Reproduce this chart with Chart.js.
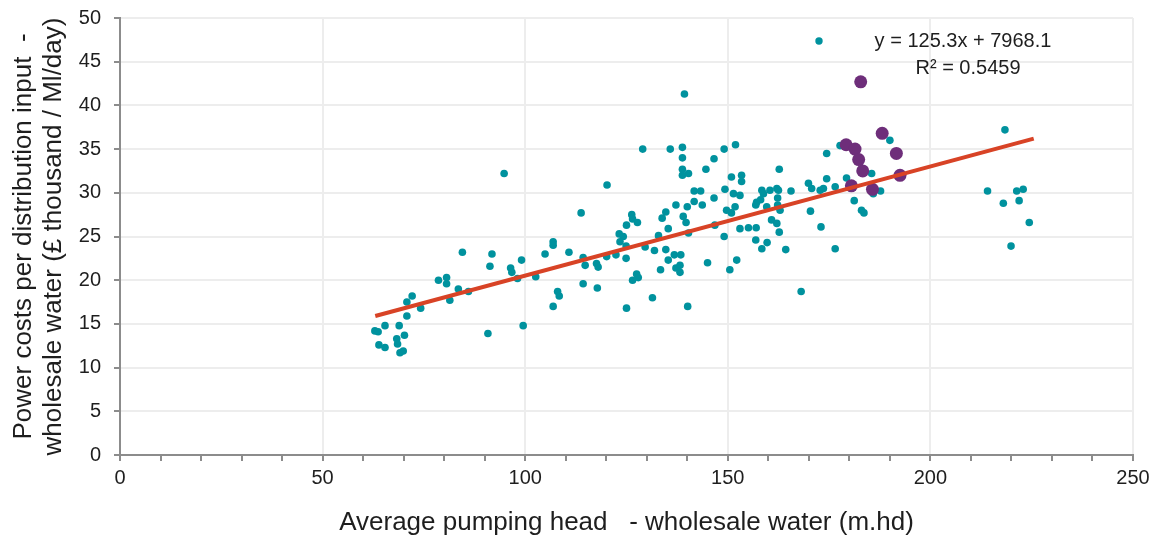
<!DOCTYPE html>
<html>
<head>
<meta charset="utf-8">
<script src="https://cdn.jsdelivr.net/npm/chart.js@4.4.0/dist/chart.umd.min.js"></script>
<style>
  body { margin: 0; background: #fff; }
  #wrap { width: 1159px; height: 538px; }
</style>
</head>
<body>
<div id="wrap"><canvas id="scatter__chart" width="1159" height="538"></canvas></div>
<script>
// Pumping head vs power cost

const headMain = [
  62.9, 63.7, 65.4, 63.9, 65.4, 68.9, 70.2, 68.3, 68.5, 69.9, 69.1, 70.8, 72.1, 70.8, 74.2,
  78.6, 80.6, 80.6, 81.4, 83.5, 86.0, 84.5, 91.8, 91.3, 90.8, 94.8, 96.4, 96.7, 98.1, 99.1,
  99.5, 102.6, 104.9, 106.9, 106.9, 108.0, 108.4, 106.9, 110.8, 113.8, 114.3, 114.8, 114.3,
  117.6, 118.0, 117.8, 120.2, 120.1, 122.4, 123.2, 124.2, 123.4, 124.9, 124.9, 125.0, 125.0,
  126.3, 126.5, 127.7, 127.5, 127.9, 126.5, 129.0, 129.6, 131.4, 131.9, 132.9, 133.4, 133.8,
  134.7, 134.7, 135.3, 135.3, 135.8, 136.8, 137.2, 137.2, 138.2, 138.2, 138.4, 138.8, 138.8,
  138.8, 138.8, 140.3, 139.0, 139.7, 139.3, 140.0, 140.3, 140.1, 141.7, 143.3, 141.7, 143.7,
  144.6, 145.0, 146.6, 146.6, 146.8, 149.1, 151.9, 150.9, 149.3, 151.4, 153.0, 149.1, 152.2,
  150.5, 149.7, 151.8, 150.9, 153.4, 153.4, 153.0, 155.1, 157.0, 156.9, 159.7, 158.4, 156.9,
  157.1, 158.1, 159.6, 158.4, 158.8, 160.4, 162.1, 162.5, 162.3, 162.3, 162.9, 162.7, 160.8,
  162.1, 162.7, 164.3, 165.6, 168.1, 169.9, 170.7, 170.4, 172.8, 173.6, 173.0, 174.4, 174.4,
  176.5, 176.5, 177.7, 179.3, 181.2, 183.0, 183.6, 185.5, 185.9, 187.7, 190.0, 214.1, 218.4,
  218.0, 221.3, 222.9, 221.9, 219.9, 224.4
];
const costMain = [
  14.2, 14.1, 14.8, 12.6, 12.3, 14.8, 13.7, 13.3, 12.7, 11.9, 11.7, 15.9, 18.2, 17.5, 16.8,
  20.0, 20.3, 19.6, 17.7, 19.0, 18.7, 23.2, 23.0, 21.6, 13.9, 32.2, 21.4, 20.9, 20.2, 22.3,
  14.8, 20.4, 23.0, 24.4, 24.0, 18.7, 18.2, 17.0, 23.2, 27.7, 22.6, 21.7, 19.6,
  21.9, 21.5, 19.1, 30.9, 22.7, 22.9, 25.3, 25.0, 24.4, 23.9, 22.5, 16.8, 26.3,
  27.5, 27.0, 26.6, 20.7, 20.3, 20.0, 35.0, 23.8, 18.0, 23.4, 25.1, 21.2, 27.1,
  27.8, 23.5, 25.9, 22.3, 35.0, 22.9, 21.4, 28.6, 21.7, 20.9, 22.9, 35.2, 34.0,
  32.7, 32.0, 32.2, 27.3, 26.6, 41.3, 28.4, 25.4, 17.0, 30.2, 30.2, 29.0, 28.6,
  32.7, 22.0, 33.9, 29.4, 26.3, 35.0, 35.5, 31.8, 30.4, 29.9, 29.7, 25.0, 22.3,
  21.2, 28.0, 28.4, 27.7, 32.0, 31.3, 25.9, 26.0, 26.0, 24.6, 24.3, 23.6, 28.6,
  28.9, 29.2, 28.4, 30.3, 29.9, 30.3, 30.5, 30.3, 29.4, 28.6, 28.0, 32.7, 26.9,
  26.5, 25.5, 23.5, 30.2, 18.7, 31.1, 30.5, 27.9, 30.3, 30.5, 26.1, 34.5, 31.6,
  30.7, 23.6, 35.4, 31.7, 29.1, 28.0, 27.7, 32.2, 29.9, 30.2, 36.0, 30.2, 37.2,
  28.8, 30.2, 30.4, 29.1, 23.9, 26.6
];

const headHighlight = [182.8, 188.1, 179.2, 181.4, 182.3, 191.6, 183.3, 192.5, 180.5, 185.7];
const costHighlight = [42.7, 36.8, 35.5, 35.0, 33.8, 34.5, 32.5, 32.0, 30.8, 30.4];

// trendline ends
const trendHead = [63.0, 225.5];
const trendCost = [15.9, 36.2];

const equationLines = ['y = 125.3x + 7968.1', 'R\u00b2 = 0.5459'];
const xTitle = 'Average pumping head   - wholesale water (m.hd)';
const yTitle = ['Power costs per distribution input  -', 'wholesale water (\u00a3 thousand / Ml/day)'];

const teal = 'rgb(0, 146, 158)';
const purple = 'rgb(110, 46, 122)';
const trendRed = 'rgb(216, 67, 38)';
const axisGrey = '#8c8c8c';
const gridGrey = '#ededed';
const textColor = '#1e1e1e';
const fontFamily = "'Liberation Sans', Arial, sans-serif";

const toPoints = (xs, ys) => xs.map((x, i) => ({ x: x, y: ys[i] }));

// legend dot + equation text box
const equationBox = {
  id: 'equationBox',
  afterDraw(chart) {
    const c = chart.ctx;
    const a = chart.chartArea;
    c.save();
    c.fillStyle = teal;
    c.beginPath();
    c.arc(a.left + 699, a.top + 23, 3.7, 0, Math.PI * 2);
    c.fill();
    c.fillStyle = textColor;
    c.font = '20px ' + fontFamily;
    c.textAlign = 'center';
    c.textBaseline = 'middle';
    c.fillText(equationLines[0], a.left + 843, a.top + 23);
    c.fillText(equationLines[1], a.left + 848, a.top + 50);
    c.restore();
  }
};

const ctx = document.getElementById('scatter__chart');

const config = {
  type: 'scatter',
  data: {
    datasets: [{
      label: 'Companies',
      data: toPoints(headMain, costMain),
      backgroundColor: teal,
      borderWidth: 0,
      pointRadius: 3.8,
      order: 3
    }, {
      label: 'Highlighted',
      data: toPoints(headHighlight, costHighlight),
      backgroundColor: purple,
      borderWidth: 0,
      pointRadius: 6.5,
      order: 2
    }, {
      type: 'line',
      label: 'Trend',
      data: toPoints(trendHead, trendCost),
      borderColor: trendRed,
      borderWidth: 4,
      pointRadius: 0,
      fill: false,
      order: 1
    }]
  },
  options: {
    responsive: false,
    animation: false,
    layout: { padding: { left: 0, right: 26, top: 18, bottom: 0 } },
    plugins: {
      legend: { display: false },
      tooltip: { enabled: false }
    },
    scales: {
      x: {
        type: 'linear',
        min: 0,
        max: 250,
        ticks: {
          stepSize: 10,
          autoSkip: false,
          maxRotation: 0,
          padding: 5,
          color: textColor,
          font: { family: fontFamily, size: 20 },
          callback: v => (v % 50 === 0 ? v : '')
        },
        grid: {
          color: c => (c.tick && c.tick.value % 50 === 0 ? gridGrey : 'rgba(0,0,0,0)'),
          lineWidth: 2,
          tickColor: axisGrey,
          tickWidth: 2,
          tickLength: 6
        },
        border: { color: axisGrey, width: 2 },
        title: {
          display: true,
          text: xTitle,
          color: textColor,
          font: { family: fontFamily, size: 26 },
          padding: { top: 10, bottom: 0 }
        },
        afterFit: s => { s.height = 83; }
      },
      y: {
        min: 0,
        max: 50,
        ticks: {
          stepSize: 5,
          padding: 13,
          color: textColor,
          font: { family: fontFamily, size: 20 }
        },
        grid: {
          color: gridGrey,
          lineWidth: 2,
          tickColor: axisGrey,
          tickWidth: 2,
          tickLength: 6
        },
        border: { color: axisGrey, width: 2 },
        title: {
          display: true,
          text: yTitle,
          color: textColor,
          font: { family: fontFamily, size: 26, lineHeight: 1.154 },
          padding: { top: 9, bottom: 0 }
        },
        afterFit: s => {
          s.width = 120;
          s.paddingTop = 0;
          s.paddingBottom = 0;
        }
      }
    }
  },
  plugins: [equationBox]
};

const myChart = new Chart(ctx, config);
</script>
</body>
</html>
